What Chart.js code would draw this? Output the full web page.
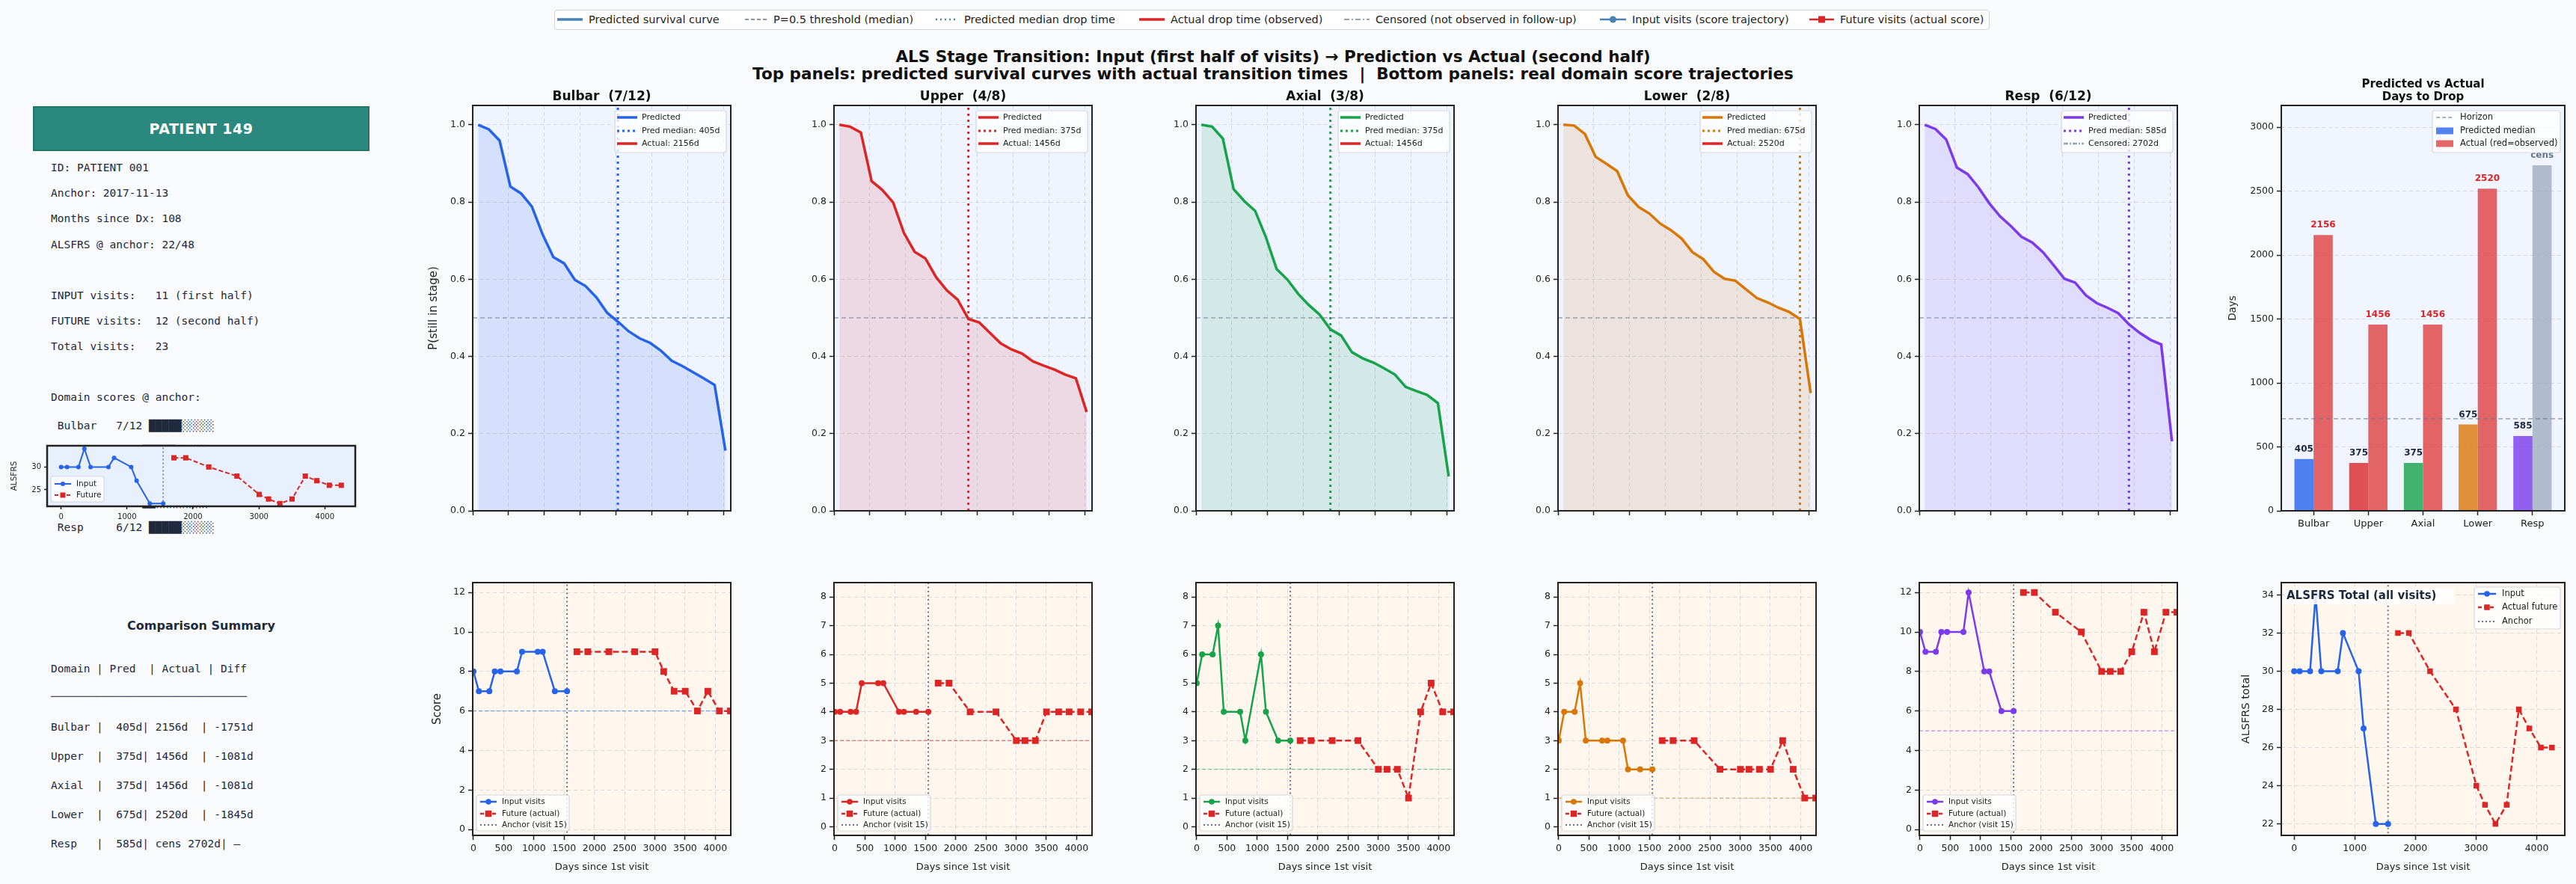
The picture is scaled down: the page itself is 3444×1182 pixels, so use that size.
<!DOCTYPE html>
<html>
<head>
<meta charset="utf-8">
<title>ALS Stage Transition</title>
<script src="https://cdn.jsdelivr.net/npm/chart.js@4.4.1/dist/chart.umd.min.js"></script>
<style>
  html, body { margin: 0; background: #f8fafc; }
  #fig { position: relative; width: 3444px; height: 1182px; overflow: hidden; background: #f8fafc; font-family: 'DejaVu Sans', sans-serif; }
  #fig canvas, .abs { position: absolute; }
  .mono { font-family: 'DejaVu Sans Mono', monospace; font-size: 14.5px; line-height: 18px; color: #1e293b; white-space: pre; }
</style>
</head>
<body>
<div id="fig">
  <div id="topLegend" class="abs" style="left:741px; top:13px; width:1919px; height:27px; background:#fff; border:1.5px solid #cfd4da; border-radius:4px; box-sizing:border-box;"></div>
  <div class="abs" style="left:0; width:3404px; top:64px; text-align:center; font-weight:bold; font-size:21.5px; line-height:23px; color:#111;">ALS Stage Transition: Input (first half of visits) → Prediction vs Actual (second half)<br>Top panels: predicted survival curves with actual transition times &nbsp;|&nbsp; Bottom panels: real domain score trajectories</div>
  <div class="abs" style="left:44px; top:142px; width:450px; height:60px; box-sizing:border-box; background:#2b887e; border:2px solid #237468; color:#fff; font-weight:bold; font-size:19px; line-height:56px; text-align:center; letter-spacing:0.5px;">PATIENT 149</div>
  <div class="abs" style="left:69px; width:400px; top:827px; text-align:center; font-weight:bold; font-size:16px; color:#1e293b;">Comparison Summary</div>
</div>
<script>
// ---------- data ----------
const domains = ['Bulbar', 'Upper', 'Axial', 'Lower', 'Resp'];
const domainColors = ['#2563eb', '#dc2626', '#16a34a', '#d97706', '#7c3aed'];
const domainMax = [12, 8, 8, 8, 12];
const anchorScore = [7, 4, 3, 2, 6];
const dropThreshold = [6, 3, 2, 1, 5];
const predMedianDays = [405, 375, 375, 675, 585];
const actualDays = [2156, 1456, 1456, 2520, 2702];
const isCensored = [false, false, false, false, true];
const horizonDays = 720;
const anchorDay = 1548;

// predicted survival curves (days after anchor)
const survDays = [15, 45, 75, 105, 135, 165, 195, 225, 255, 285, 315, 345, 375, 405, 435, 465, 495, 525, 555, 585, 615, 645, 675, 705];
const survBulbar = [1.0, 0.988, 0.959, 0.840, 0.822, 0.788, 0.716, 0.657, 0.641, 0.598, 0.582, 0.553, 0.513, 0.490, 0.465, 0.447, 0.435, 0.415, 0.389, 0.375, 0.359, 0.343, 0.326, 0.156];
const survUpper = [1.0, 0.995, 0.980, 0.854, 0.831, 0.799, 0.720, 0.671, 0.654, 0.605, 0.571, 0.547, 0.497, 0.488, 0.461, 0.434, 0.418, 0.407, 0.387, 0.376, 0.366, 0.353, 0.343, 0.256];
const survAxial = [1.0, 0.995, 0.964, 0.833, 0.802, 0.777, 0.709, 0.626, 0.599, 0.562, 0.533, 0.508, 0.470, 0.454, 0.411, 0.395, 0.384, 0.369, 0.353, 0.321, 0.310, 0.300, 0.279, 0.089];
const survLower = [1.0, 0.998, 0.976, 0.917, 0.899, 0.880, 0.817, 0.787, 0.770, 0.744, 0.727, 0.705, 0.670, 0.652, 0.619, 0.601, 0.596, 0.573, 0.551, 0.540, 0.526, 0.515, 0.497, 0.305];
const survResp = [1.0, 0.989, 0.962, 0.889, 0.872, 0.838, 0.797, 0.763, 0.738, 0.710, 0.695, 0.670, 0.636, 0.601, 0.591, 0.558, 0.538, 0.526, 0.512, 0.483, 0.461, 0.443, 0.431, 0.180];

// visits (days since 1st visit)
const inputDays = [0, 90, 263, 353, 447, 718, 804, 1063, 1145, 1346, 1548];
const futureDays = [1711, 1891, 2240, 2667, 3004, 3147, 3319, 3503, 3704, 3877, 4068, 4250];
const bulbarInput = [8, 7, 7, 8, 8, 8, 9, 9, 9, 7, 7];
const bulbarFuture = [9, 9, 9, 9, 9, 8, 7, 7, 6, 7, 6, 6];
const upperInput = [4, 4, 4, 4, 5, 5, 5, 4, 4, 4, 4];
const upperFuture = [5, 5, 4, 4, 3, 3, 3, 4, 4, 4, 4, 4];
const axialInput = [5, 6, 6, 7, 4, 4, 3, 6, 4, 3, 3];
const axialFuture = [3, 3, 3, 3, 2, 2, 2, 1, 4, 5, 4, 4];
const lowerInput = [3, 4, 4, 5, 3, 3, 3, 3, 2, 2, 2];
const lowerFuture = [3, 3, 3, 2, 2, 2, 2, 2, 3, 2, 1, 1];
const respInput = [10, 9, 9, 10, 10, 10, 12, 8, 8, 6, 6];
const respFuture = [12, 12, 11, 10, 8, 8, 8, 9, 11, 9, 11, 11];
const totalInput = [30, 30, 30, 34, 30, 30, 32, 30, 27, 22, 22];
const totalFuture = [32, 32, 30, 28, 24, 23, 22, 23, 28, 27, 26, 26];

// tick labels
const survTicks = [0, 100, 200, 300, 400, 500, 600, 700];
const probTicks = [0, 0.2, 0.4, 0.6, 0.8, 1.0];
const dayTicks = [0, 500, 1000, 1500, 2000, 2500, 3000, 3500, 4000];
const dayTicksWide = [0, 1000, 2000, 3000, 4000];
const scoreTicks12 = [0, 2, 4, 6, 8, 10, 12];
const scoreTicks8 = [0, 1, 2, 3, 4, 5, 6, 7, 8];
const barTicks = [0, 500, 1000, 1500, 2000, 2500, 3000];
const totalTicks = [22, 24, 26, 28, 30, 32, 34];
const insetTicks = [25, 30];

const survSeries = [survBulbar, survUpper, survAxial, survLower, survResp];
const domainInput = [bulbarInput, upperInput, axialInput, lowerInput, respInput];
const domainFuture = [bulbarFuture, upperFuture, axialFuture, lowerFuture, respFuture];

// ---------- helpers ----------
const FONT = "'DejaVu Sans', sans-serif";
Chart.defaults.font.family = FONT;
Chart.defaults.color = '#222';
const fig = document.getElementById('fig');
const decorCfg = new Map();

function rgba(hex, a) {
  const n = parseInt(hex.slice(1), 16);
  return `rgba(${(n >> 16) & 255},${(n >> 8) & 255},${n & 255},${a})`;
}
function xy(xs, ys) { return xs.map((x, k) => ({ x, y: ys[k] })); }
function vline(x, y0, y1) { return [{ x, y: y0 }, { x, y: y1 }]; }
function hline(y, x0, x1) { return [{ x: x0, y }, { x: x1, y }]; }

function label(ctx, str, x, y, size, o = {}) {
  ctx.save();
  ctx.font = `${o.bold ? 'bold ' : ''}${size}px ${FONT}`;
  ctx.fillStyle = o.color || '#222';
  ctx.textAlign = o.align || 'center';
  ctx.textBaseline = 'middle';
  ctx.translate(x, y);
  if (o.rot) ctx.rotate(o.rot);
  ctx.fillText(str, 0, 0);
  ctx.restore();
}

function drawLegend(ctx, a, L) {
  const x0 = L.bottom ? a.left + L.dx : a.right - L.dx - L.w;
  const y0 = L.bottom ? a.bottom - L.dy - L.h : a.top + L.dy;
  ctx.save();
  ctx.beginPath();
  ctx.roundRect(x0, y0, L.w, L.h, 3);
  ctx.fillStyle = 'rgba(255,255,255,0.8)';
  ctx.fill();
  ctx.strokeStyle = '#d4d8de';
  ctx.lineWidth = 1.2;
  ctx.stroke();
  L.items.forEach((it, k) => {
    const y = y0 + L.rows[k], h0 = x0 + L.hx[0], h1 = x0 + L.hx[1];
    if (it.patch) { ctx.fillStyle = it.patch; ctx.fillRect(h0, y - 4.5, h1 - h0, 9); }
    if (it.line) {
      ctx.beginPath();
      ctx.setLineDash(it.line.dash || []);
      ctx.strokeStyle = it.line.color;
      ctx.lineWidth = it.line.width;
      ctx.moveTo(h0, y); ctx.lineTo(h1, y); ctx.stroke();
      ctx.setLineDash([]);
    }
    if (it.marker) {
      const m = it.marker, mx = (h0 + h1) / 2;
      ctx.fillStyle = m.color;
      if (m.shape === 'square') ctx.fillRect(mx - m.size / 2, y - m.size / 2, m.size, m.size);
      else { ctx.beginPath(); ctx.arc(mx, y, m.size, 0, Math.PI * 2); ctx.fill(); }
    }
    label(ctx, it.label, x0 + L.tx, y, L.size, { align: 'left' });
  });
  ctx.restore();
}

// backgrounds, frames, titles, axis labels and legends for each axes
Chart.register({
  id: 'decor',
  beforeDraw(chart) {
    const o = decorCfg.get(chart.canvas);
    if (!o || !o.bg) return;
    const { ctx, chartArea: a } = chart;
    ctx.save(); ctx.fillStyle = o.bg; ctx.fillRect(a.left, a.top, a.width, a.height); ctx.restore();
  },
  afterDatasetsDraw(chart) {
    const o = decorCfg.get(chart.canvas);
    if (o && o.after) o.after(chart);
  },
  afterDraw(chart) {
    const o = decorCfg.get(chart.canvas);
    if (!o) return;
    const { ctx, chartArea: a } = chart;
    ctx.save();
    ctx.strokeStyle = '#222';
    ctx.lineWidth = o.frame || 2;
    ctx.strokeRect(a.left, a.top, a.width, a.height);
    ctx.restore();
    const cx = (a.left + a.right) / 2, cy = (a.top + a.bottom) / 2;
    (o.titles || []).forEach(t => label(ctx, t.text, cx, a.top - t.dy, t.size, { bold: true, color: '#111' }));
    if (o.ylabel) label(ctx, o.ylabel.text, a.left - o.ylabel.dx, cy, o.ylabel.size, { rot: -Math.PI / 2 });
    if (o.xlabel) label(ctx, o.xlabel.text, cx, a.bottom + o.xlabel.dy, o.xlabel.size);
    if (o.textBox) {
      const t = o.textBox;
      ctx.save();
      ctx.fillStyle = 'rgba(255,255,255,0.85)';
      ctx.fillRect(a.left + t.x, a.top + t.y, t.w, t.h);
      ctx.restore();
      label(ctx, t.text, a.left + t.x + 3, a.top + t.y + t.h / 2, t.size, { bold: true, align: 'left', color: '#1e293b' });
    }
    if (o.legend) drawLegend(ctx, a, o.legend);
  }
});

function axis(min, max, ticks, fit, o = {}) {
  return {
    type: 'linear', min, max, bounds: 'data', offset: false,
    afterBuildTicks: s => { s.ticks = ticks.map(v => ({ value: v })); },
    afterFit: s => { if (s.isHorizontal()) s.height = fit; else s.width = fit; },
    ticks: {
      display: o.labels !== false, autoSkip: false, maxRotation: 0, minRotation: 0,
      padding: o.tickPad || 4, color: '#222', font: { size: o.size || 12.5 },
      callback: o.fmt || (v => String(v))
    },
    grid: {
      drawOnChartArea: o.grid !== false, offset: false, color: 'rgba(148,163,184,0.35)', lineWidth: 1,
      drawTicks: true, tickLength: o.tickLen || 6, tickColor: '#222', tickWidth: 1.5
    },
    border: { display: false, dash: [5, 4] }
  };
}

function makeChart(box, pad, type, datasets, scales, deco) {
  const c = document.createElement('canvas');
  const w = box.r - box.l + pad.l + pad.r, h = box.b - box.t + pad.t + pad.b;
  c.width = w; c.height = h;
  c.style.left = (box.l - pad.l) + 'px';
  c.style.top = (box.t - pad.t) + 'px';
  c.style.width = w + 'px';
  c.style.height = h + 'px';
  fig.appendChild(c);
  decorCfg.set(c, deco);
  return new Chart(c, {
    type, data: { datasets },
    options: {
      responsive: false, animation: false, devicePixelRatio: 1, events: [],
      layout: { padding: { top: pad.t, right: pad.r, left: 0, bottom: 0 } },
      scales,
      plugins: { legend: { display: false }, tooltip: { enabled: false }, title: { display: false }, filler: { drawTime: 'beforeDatasetsDraw' } }
    }
  });
}

const flat = { pointRadius: 0, fill: false, tension: 0 };

// ---------- left info panel ----------
function monoLine(text, cy) {
  const d = document.createElement('div');
  d.className = 'abs mono';
  d.style.left = '68px';
  d.style.top = (cy - 9) + 'px';
  d.textContent = text;
  fig.appendChild(d);
}
const infoLines = [
  ['ID: PATIENT 001', 224],
  ['Anchor: 2017-11-13', 258],
  ['Months since Dx: 108', 292],
  [`ALSFRS @ anchor: ${totalInput[totalInput.length - 1]}/48`, 327],
  [`INPUT visits:   ${inputDays.length} (first half)`, 395],
  [`FUTURE visits:  ${futureDays.length} (second half)`, 429],
  [`Total visits:   ${inputDays.length + futureDays.length}`, 463],
  ['Domain scores @ anchor:', 531]
];
infoLines.forEach(([t, y]) => monoLine(t, y));
domains.forEach((name, i) => {
  const n = Math.floor(anchorScore[i] / domainMax[i] * 10);
  monoLine(' ' + name.padEnd(9) + `${anchorScore[i]}/${domainMax[i]} ` + '█'.repeat(n) + '░'.repeat(10 - n), 569 + 34 * i);
});
monoLine('Domain | Pred  | Actual | Diff', 894);
monoLine('─'.repeat(30), 931);
domains.forEach((name, i) => {
  const act = isCensored[i] ? `cens ${actualDays[i]}d` : `${actualDays[i]}d`;
  const diff = isCensored[i] ? '—' : `${predMedianDays[i] - actualDays[i]}d`;
  monoLine(`${name.padEnd(6)} | ${String(predMedianDays[i]).padStart(4)}d| ${act.padEnd(7)}| ${diff}`, 972 + 39 * i);
});

// ---------- top legend ----------
const legendEntries = [
  { hx: 745, tx: 787, text: 'Predicted survival curve', color: '#4682b4', w: 3.5, dash: '' },
  { hx: 996, tx: 1034, text: 'P=0.5 threshold (median)', color: '#8a94a3', w: 2, dash: '5 3' },
  { hx: 1251, tx: 1289, text: 'Predicted median drop time', color: '#4682b4', w: 2.5, dash: '2 4' },
  { hx: 1523, tx: 1565, text: 'Actual drop time (observed)', color: '#dc2626', w: 3.5, dash: '' },
  { hx: 1797, tx: 1839, text: 'Censored (not observed in follow-up)', color: '#94a3b8', w: 2, dash: '7 3 2 3' },
  { hx: 2139, tx: 2182, text: 'Input visits (score trajectory)', color: '#4682b4', w: 2.5, dash: '', marker: 'circle' },
  { hx: 2419, tx: 2460, text: 'Future visits (actual score)', color: '#dc2626', w: 2.5, dash: '', marker: 'square' }
];
const tl = document.getElementById('topLegend');
legendEntries.forEach(e => {
  const hw = e.tx - e.hx - 8;
  let svg = `<svg class="abs" style="left:${e.hx - 742}px;top:0" width="${hw}" height="24"><line x1="0" y1="12" x2="${hw}" y2="12" stroke="${e.color}" stroke-width="${e.w}"${e.dash ? ` stroke-dasharray="${e.dash}"` : ''}/>`;
  if (e.marker === 'circle') svg += `<circle cx="${hw / 2}" cy="12" r="4.5" fill="${e.color}"/>`;
  if (e.marker === 'square') svg += `<rect x="${hw / 2 - 4.5}" y="7.5" width="9" height="9" fill="${e.color}"/>`;
  svg += '</svg>';
  tl.insertAdjacentHTML('beforeend', svg + `<span class="abs" style="left:${e.tx - 742}px;top:0;line-height:24px;font-size:14.5px;color:#222;white-space:nowrap">${e.text}</span>`);
});

// ---------- domain panels ----------
const colLeft = [632, 1115, 1599, 2083, 2566];
const PANEL_W = 345;

domains.forEach((name, i) => {
  const col = domainColors[i];

  // top: predicted survival curve
  const sBox = { l: colLeft[i], r: colLeft[i] + PANEL_W, t: 141, b: 683 };
  const sPad = { l: 75, r: 8, t: 40, b: 14 };
  makeChart(sBox, sPad, 'line', [
    { ...flat, data: vline(predMedianDays[i], 0, 1.05), borderColor: col, borderWidth: 3, borderDash: [3, 5] },
    { ...flat, data: vline(actualDays[i], 0, 1.05), borderColor: isCensored[i] ? '#94a3b8' : '#dc2626', borderWidth: 3 },
    { ...flat, data: xy(survDays, survSeries[i]), borderColor: col, borderWidth: 3.5, fill: 'origin', backgroundColor: rgba(col, 0.13) },
    { ...flat, data: hline(0.5, 0, horizonDays), borderColor: '#94a3b8', borderWidth: 1.5, borderDash: [6, 4] }
  ], {
    x: axis(0, horizonDays, survTicks, sPad.b, { labels: false }),
    y: axis(0, 1.05, probTicks, sPad.l, { fmt: v => v.toFixed(1) })
  }, {
    bg: '#eff4ff',
    titles: [{ text: `${name}  (${anchorScore[i]}/${domainMax[i]})`, dy: 11, size: 17 }],
    ylabel: i === 0 ? { text: 'P(still in stage)', dx: 52, size: 15 } : null,
    legend: {
      dx: 6, dy: 7, w: 149, h: 56, rows: [9, 27, 44], hx: [3, 30], tx: 36, size: 11,
      items: [
        { label: 'Predicted', line: { color: col, width: 3.5 } },
        { label: `Pred median: ${predMedianDays[i]}d`, line: { color: col, width: 3, dash: [3, 4] } },
        isCensored[i]
          ? { label: `Censored: ${actualDays[i]}d`, line: { color: '#94a3b8', width: 2.5, dash: [6, 2, 2, 2] } }
          : { label: `Actual: ${actualDays[i]}d`, line: { color: '#dc2626', width: 3.5 } }
      ]
    }
  });

  // bottom: domain score trajectory
  const max = domainMax[i];
  const tBox = { l: colLeft[i], r: colLeft[i] + PANEL_W, t: 779, b: 1117 };
  const tPad = { l: 75, r: 8, t: 16, b: 60 };
  makeChart(tBox, tPad, 'line', [
    { data: xy(inputDays, domainInput[i]), borderColor: col, backgroundColor: col, borderWidth: 2.5, pointRadius: 4, pointBorderWidth: 0, pointStyle: 'circle', tension: 0, fill: false },
    { data: xy(futureDays, domainFuture[i]), borderColor: '#dc2626', backgroundColor: '#dc2626', borderWidth: 2.5, borderDash: [8, 4], pointStyle: 'rect', pointRadius: 6.3, pointBorderWidth: 0, tension: 0, fill: false },
    { ...flat, data: vline(anchorDay, -1, max + 1), borderColor: '#64748b', borderWidth: 2, borderDash: [2, 3.5] },
    { ...flat, data: hline(dropThreshold[i], -12, 4256), borderColor: rgba(col, 0.55), borderWidth: 1.3, borderDash: [5, 3] }
  ], {
    x: axis(-12, 4256, dayTicks, tPad.b),
    y: axis(-0.3, max + 0.5, max === 12 ? scoreTicks12 : scoreTicks8, tPad.l)
  }, {
    bg: '#fff7ed',
    ylabel: i === 0 ? { text: 'Score', dx: 47, size: 15 } : null,
    xlabel: { text: 'Days since 1st visit', dy: 43, size: 13 },
    legend: {
      bottom: true, dx: 5, dy: 6, w: 124, h: 48, rows: [9, 25, 40], hx: [5, 27], tx: 34, size: 10.5,
      items: [
        { label: 'Input visits', line: { color: col, width: 2.5 }, marker: { shape: 'circle', size: 3.8, color: col } },
        { label: 'Future (actual)', line: { color: '#dc2626', width: 2.5, dash: [5, 3] }, marker: { shape: 'square', size: 8.5, color: '#dc2626' } },
        { label: 'Anchor (visit 15)', line: { color: '#64748b', width: 2, dash: [2, 3] } }
      ]
    }
  });
});

// ---------- predicted vs actual bars ----------
const bBox = { l: 3050, r: 3429, t: 141, b: 683 };
const bPad = { l: 80, r: 10, t: 55, b: 40 };
makeChart(bBox, bPad, 'bar', [
  { data: xy([0, 1, 2, 3, 4], predMedianDays), backgroundColor: domainColors.map(c => rgba(c, 0.8)), categoryPercentage: 0.7, barPercentage: 1.0 },
  { data: xy([0, 1, 2, 3, 4], actualDays), backgroundColor: isCensored.map(c => c ? rgba('#94a3b8', 0.7) : rgba('#dc2626', 0.7)), categoryPercentage: 0.7, barPercentage: 1.0 }
], {
  x: axis(-0.59, 4.59, [0, 1, 2, 3, 4], bPad.b, { grid: false, size: 13, fmt: v => domains[v] }),
  y: axis(0, 3170, barTicks, bPad.l)
}, {
  bg: '#f0f5ff',
  titles: [{ text: 'Predicted vs Actual', dy: 28, size: 15 }, { text: 'Days to Drop', dy: 11, size: 15 }],
  ylabel: { text: 'Days', dx: 65, size: 13.5 },
  after(chart) {
    const { ctx, chartArea: a } = chart;
    const py = chart.scales.y.getPixelForValue(horizonDays);
    ctx.save();
    ctx.strokeStyle = 'rgba(100,116,139,0.55)'; ctx.lineWidth = 1.8; ctx.setLineDash([6, 4]);
    ctx.beginPath(); ctx.moveTo(a.left, py); ctx.lineTo(a.right, py); ctx.stroke();
    ctx.restore();
    chart.getDatasetMeta(0).data.forEach((bar, k) =>
      label(ctx, String(predMedianDays[k]), bar.x, bar.y - 13, 12, { bold: true, color: '#1e293b' }));
    chart.getDatasetMeta(1).data.forEach((bar, k) =>
      label(ctx, isCensored[k] ? 'cens' : String(actualDays[k]), bar.x, bar.y - 13, 12, { bold: true, color: isCensored[k] ? '#64748b' : '#dc2626' }));
  },
  legend: {
    dx: 6, dy: 7, w: 171, h: 56, rows: [9, 27, 44], hx: [5, 28], tx: 37, size: 11.5,
    items: [
      { label: 'Horizon', line: { color: 'rgba(100,116,139,0.55)', width: 1.8, dash: [5, 3] } },
      { label: 'Predicted median', patch: rgba('#2563eb', 0.8) },
      { label: 'Actual (red=observed)', patch: rgba('#dc2626', 0.7) }
    ]
  }
});

// ---------- ALSFRS total ----------
const aBox = { l: 3050, r: 3429, t: 779, b: 1117 };
const aPad = { l: 80, r: 10, t: 16, b: 60 };
makeChart(aBox, aPad, 'line', [
  { data: xy(inputDays, totalInput), borderColor: '#2563eb', backgroundColor: '#2563eb', borderWidth: 2.5, pointRadius: 4, pointBorderWidth: 0, tension: 0, fill: false },
  { data: xy(futureDays, totalFuture), borderColor: '#dc2626', backgroundColor: '#dc2626', borderWidth: 2.5, borderDash: [8, 4], pointStyle: 'rect', pointRadius: 5.3, pointBorderWidth: 0, tension: 0, fill: false },
  { ...flat, data: vline(anchorDay, 20, 36), borderColor: '#64748b', borderWidth: 2, borderDash: [2, 3.5] }
], {
  x: axis(-212, 4462, dayTicksWide, aPad.b),
  y: axis(21.4, 34.64, totalTicks, aPad.l)
}, {
  bg: '#fff7ed',
  ylabel: { text: 'ALSFRS total', dx: 47, size: 14.5 },
  xlabel: { text: 'Days since 1st visit', dy: 43, size: 13 },
  textBox: { text: 'ALSFRS Total (all visits)', x: 4, y: 8, w: 228, h: 21, size: 15 },
  legend: {
    dx: 6, dy: 6, w: 115, h: 56, rows: [9, 27, 46], hx: [5, 29], tx: 37, size: 11.5,
    items: [
      { label: 'Input', line: { color: '#2563eb', width: 2.5 }, marker: { shape: 'circle', size: 3.8, color: '#2563eb' } },
      { label: 'Actual future', line: { color: '#dc2626', width: 2.5, dash: [5, 3] }, marker: { shape: 'square', size: 7.5, color: '#dc2626' } },
      { label: 'Anchor', line: { color: '#64748b', width: 2, dash: [2, 3] } }
    ]
  }
});

// ---------- inset on the info panel ----------
const iBox = { l: 63, r: 476, t: 596, b: 677 };
const iPad = { l: 50, r: 4, t: 14, b: 30 };
makeChart(iBox, iPad, 'line', [
  { data: xy(inputDays, totalInput), borderColor: '#2563eb', backgroundColor: '#2563eb', borderWidth: 2, pointRadius: 3, pointBorderWidth: 0, tension: 0, fill: false },
  { data: xy(futureDays, totalFuture), borderColor: '#dc2626', backgroundColor: '#dc2626', borderWidth: 2, borderDash: [6, 3], pointStyle: 'rect', pointRadius: 5, pointBorderWidth: 0, tension: 0, fill: false },
  { ...flat, data: vline(anchorDay, 20, 36), borderColor: '#64748b', borderWidth: 1.5, borderDash: [2, 3] }
], {
  x: axis(-212, 4462, dayTicksWide, iPad.b, { grid: false, size: 10, tickLen: 4 }),
  y: axis(21.4, 34.64, insetTicks, iPad.l, { grid: false, size: 10, tickLen: 4 })
}, {
  bg: '#e8f0fd',
  frame: 2.5,
  ylabel: { text: 'ALSFRS', dx: 44, size: 10.5 },
  legend: {
    bottom: true, dx: 5, dy: 6, w: 71, h: 34, rows: [10, 25], hx: [5, 27], tx: 34, size: 10.5,
    items: [
      { label: 'Input', line: { color: '#2563eb', width: 2 }, marker: { shape: 'circle', size: 3, color: '#2563eb' } },
      { label: 'Future', line: { color: '#dc2626', width: 2, dash: [5, 3] }, marker: { shape: 'square', size: 7, color: '#dc2626' } }
    ]
  }
});
</script>
</body>
</html>
